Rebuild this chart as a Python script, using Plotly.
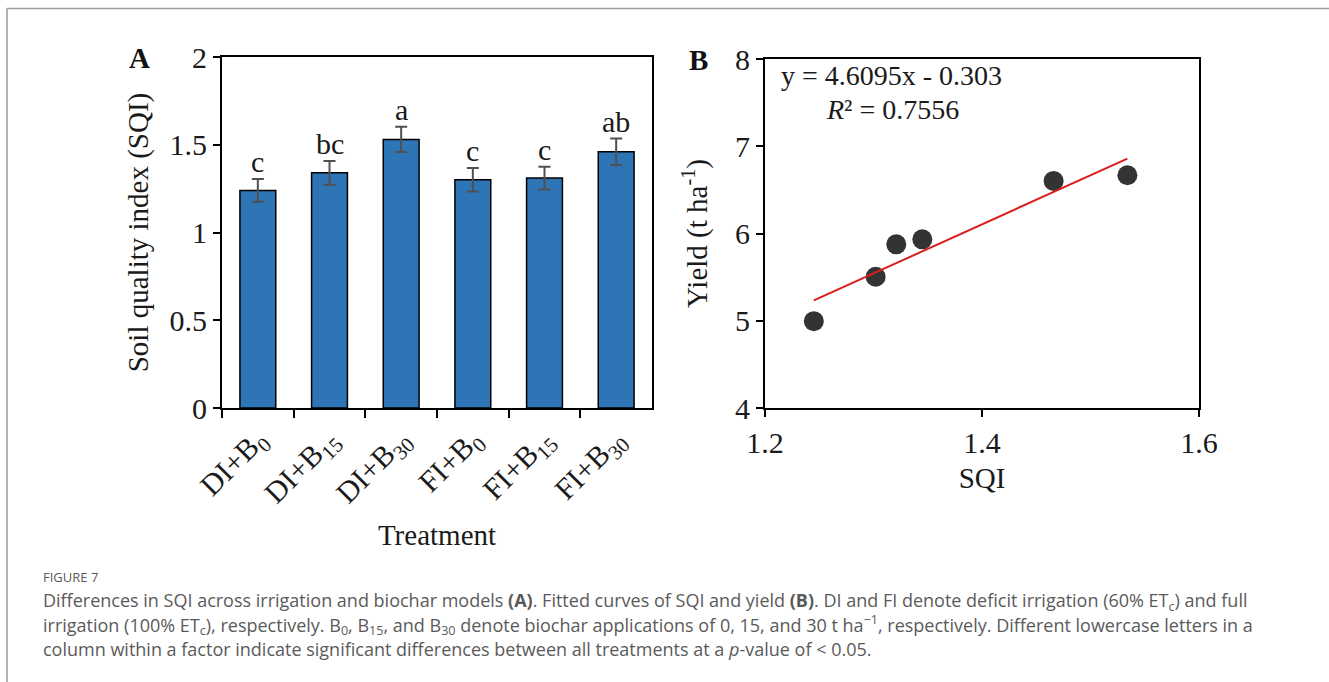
import numpy as np
import plotly.graph_objects as go

# ---------------- data ----------------
treatments = ["DI+B<sub>0</sub>", "DI+B<sub>15</sub>", "DI+B<sub>30</sub>",
              "FI+B<sub>0</sub>", "FI+B<sub>15</sub>", "FI+B<sub>30</sub>"]
sqi_mean = [1.24, 1.34, 1.53, 1.30, 1.31, 1.46]
sqi_err = [0.065, 0.068, 0.072, 0.067, 0.065, 0.075]
sig_letters = ["c", "bc", "a", "c", "c", "ab"]

scatter_sqi = [1.245, 1.302, 1.321, 1.345, 1.466, 1.534]
scatter_yield = [4.995, 5.504, 5.876, 5.933, 6.603, 6.668]

eq_text = "y = 4.6095x - 0.303"
r2_text = "<i>R</i>² = 0.7556"

W, H = 1329, 682
SERIF = "Liberation Serif"
SANS = "Open Sans"
TXT = "#1a1a1a"


def px(x):
    return x / W


def py(y):
    return 1 - y / H


fig = go.Figure()

# Panel A: bars
fig.add_trace(go.Bar(
    x=treatments, y=sqi_mean,
    marker=dict(color="#2E75B6", line=dict(color="black", width=1.5)),
    width=0.5,
    error_y=dict(type="data", array=sqi_err, color="#505050", thickness=2, width=6),
    xaxis="x", yaxis="y", showlegend=False,
))

# significance letters
for t, m, e, l in zip(treatments, sqi_mean, sqi_err, sig_letters):
    fig.add_annotation(x=t, y=m + e, xref="x", yref="y", text=l, showarrow=False,
                       yanchor="bottom", yshift=-1,
                       font=dict(family=SERIF, size=30, color=TXT))

# Panel B: scatter and fit
fig.add_trace(go.Scatter(
    x=scatter_sqi, y=scatter_yield, mode="markers",
    marker=dict(color="#333333", size=20),
    xaxis="x2", yaxis="y2", showlegend=False,
))
coef = np.polyfit(scatter_sqi, scatter_yield, 1)
fx = np.array([min(scatter_sqi), max(scatter_sqi)])
fig.add_trace(go.Scatter(
    x=fx, y=np.polyval(coef, fx), mode="lines",
    line=dict(color="#D91E1E", width=2),
    xaxis="x2", yaxis="y2", showlegend=False,
))


def axis(**kw):
    d = dict(showline=True, linecolor="black", linewidth=2, mirror=True,
             ticks="outside", tickcolor="black", tickwidth=2, ticklen=7,
             showgrid=False, zeroline=False, automargin=False,
             tickfont=dict(family=SERIF, size=30, color=TXT))
    d.update(kw)
    return d


title_font = dict(family=SERIF, size=29, color=TXT)

fig.update_layout(
    template="none",
    width=W, height=H,
    margin=dict(l=0, r=0, t=0, b=0, pad=0),
    paper_bgcolor="white", plot_bgcolor="white",
    bargap=0.5,
    showlegend=False,
    xaxis=axis(domain=[px(222), px(652)], anchor="y", tickangle=-45,
               tickson="boundaries", ticklen=8,
               title=dict(text="Treatment", font=title_font, standoff=13)),
    yaxis=axis(domain=[py(408), py(57)], anchor="x", range=[0, 2],
               tickvals=[0, 0.5, 1, 1.5, 2], ticktext=["0", "0.5", "1", "1.5", "2"],
               title=dict(text="Soil quality index (SQI)", font=title_font, standoff=12)),
    xaxis2=axis(domain=[px(765), px(1199)], anchor="y2", range=[1.2, 1.6],
                tickvals=[1.2, 1.4, 1.6], ticktext=["1.2", "1.4", "1.6"],
                title=dict(text="SQI", font=title_font, standoff=10)),
    yaxis2=axis(domain=[py(408), py(59)], anchor="x2", range=[4, 8],
                tickvals=[4, 5, 6, 7, 8],
                title=dict(text="Yield (t ha<sup>-1</sup>)", font=title_font, standoff=19)),
)

# equation text
fig.add_annotation(x=px(779), y=py(75), xref="paper", yref="paper", text=eq_text,
                   showarrow=False, xanchor="left", yanchor="middle",
                   font=dict(family=SERIF, size=28, color=TXT))
fig.add_annotation(x=px(824), y=py(110), xref="paper", yref="paper", text=r2_text,
                   showarrow=False, xanchor="left", yanchor="middle",
                   font=dict(family=SERIF, size=28, color=TXT))

# panel letters
fig.add_annotation(x=px(139), y=py(58), xref="paper", yref="paper", text="<b>A</b>",
                   showarrow=False, xanchor="center", yanchor="middle",
                   font=dict(family=SERIF, size=29, color="#111111"))
fig.add_annotation(x=px(698), y=py(60), xref="paper", yref="paper", text="<b>B</b>",
                   showarrow=False, xanchor="center", yanchor="middle",
                   font=dict(family=SERIF, size=29, color="#111111"))

# caption
cap_color = "#5a5a5a"
fig.add_annotation(x=px(41), y=py(577), xref="paper", yref="paper", text="FIGURE 7",
                   showarrow=False, xanchor="left", yanchor="middle",
                   font=dict(family=SANS, size=13, color=cap_color))
cap_lines = [
    "Differences in SQI across irrigation and biochar models <b>(A)</b>. Fitted curves of SQI and yield <b>(B)</b>. "
    "DI and FI denote deficit irrigation (60% ET<sub>c</sub>) and full",
    "irrigation (100% ET<sub>c</sub>), respectively. B<sub>0</sub>, B<sub>15</sub>, and B<sub>30</sub> denote biochar "
    "applications of 0, 15, and 30 t ha<sup>−1</sup>, respectively. Different lowercase letters in a",
    "column within a factor indicate significant differences between all treatments at a <i>p</i>-value of &lt; 0.05.",
]
for i, line in enumerate(cap_lines):
    fig.add_annotation(x=px(41), y=py(601 + 24 * i), xref="paper", yref="paper", text=line,
                       showarrow=False, xanchor="left", yanchor="middle",
                       font=dict(family=SANS, size=18, color=cap_color))

# page border lines
fig.add_shape(type="line", xref="paper", yref="paper", x0=px(7), x1=1, y0=py(8.5), y1=py(8.5),
              line=dict(color="#9a9a9a", width=1.5))
fig.add_shape(type="line", xref="paper", yref="paper", x0=px(7), x1=px(7), y0=py(8.5), y1=0,
              line=dict(color="#9a9a9a", width=1.5))

fig.write_html("out.html")
